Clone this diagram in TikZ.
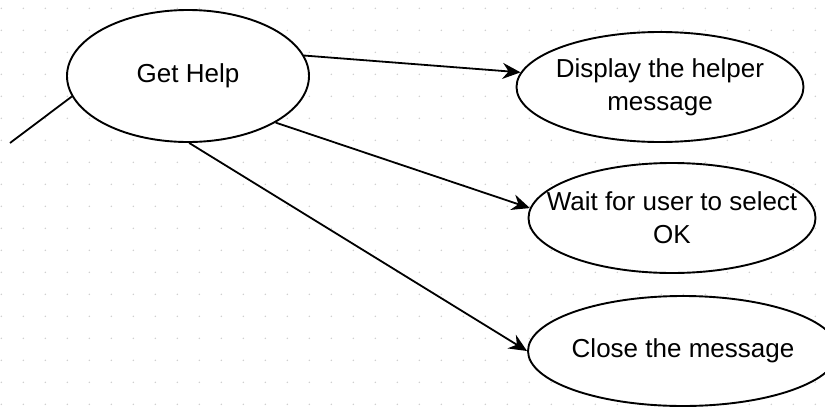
\documentclass[tikz,border=0pt]{standalone}
\usepackage{fontspec}
\setmainfont{Liberation Sans}
\usetikzlibrary{shapes.geometric,arrows.meta}
\begin{document}
\begin{tikzpicture}[x=1pt,y=-1pt,
  usecase/.style={ellipse,draw=black,line width=1.9pt,fill=white,
    inner xsep=-60pt,inner ysep=0pt,align=center,
    font=\fontsize{26}{33}\selectfont},
  link/.style={line width=1.8pt,-{Stealth[length=18pt,width=16pt,inset=6pt]}},
  griddot/.style={fill=black!20}]
% page and dotted grid
\fill[white] (0,0) rectangle (825,407);
\useasboundingbox (0,0) rectangle (825,407);
\clip (0,0) rectangle (825,407);
\foreach \i in {0,...,37} {
  \foreach \j in {0,...,18} {
    \fill[griddot] (1.3+22*\i, 8.3+22*\j) circle (0.8pt);
  }
}
% use cases
\node[usecase,minimum width=242pt,minimum height=132pt] (help) at (188,76) {Get Help};
\node[usecase,minimum width=287pt,minimum height=110pt] (disp) at (660,87) {Display the helper\\message};
\node[usecase,minimum width=287pt,minimum height=110pt] (wait) at (672,218) {Wait for user to select\\OK};
\node[usecase,minimum width=310pt,minimum height=110pt] (close) at (683,351) {Close the message};
% connectors
\coordinate (actor) at (10,143);
\draw[line width=1.8pt] (help.190) -- (actor);
\draw[link] (help.10) -- (disp.174.5);
\draw[link] (help.-28) -- (wait.176);
\draw[link] (help.-89) -- (close.180);
\end{tikzpicture}
\end{document}
